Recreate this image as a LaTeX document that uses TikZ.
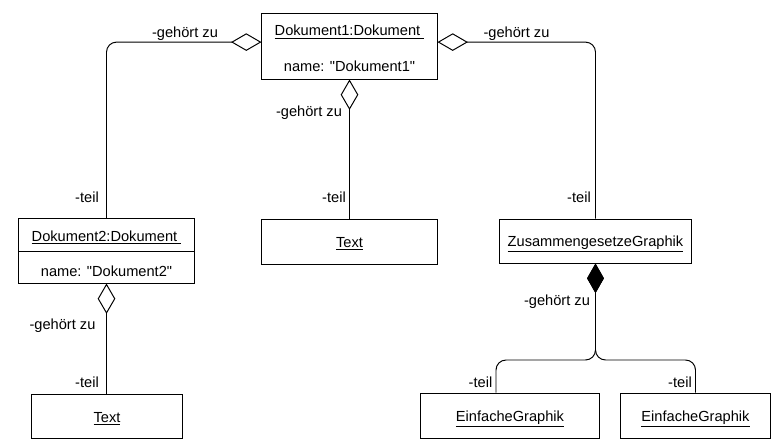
\documentclass[tikz,border=0pt]{standalone}
\usepackage{fontspec}
\setmainfont{Liberation Sans}[Ligatures=TeXOff]
\usetikzlibrary{arrows.meta}

\begin{document}
\begin{tikzpicture}[x=0.025cm, y=-0.025cm, line width=0.7pt,
        font=\fontsize{10.4}{12.5}\selectfont,
        objekt/.style={draw, rectangle, inner sep=0pt, minimum height=1.125cm},
        rolle/.style={anchor=base, inner sep=0pt},
        aggr/.style={{Diamond[open, length=0.76cm, width=0.44cm]}-, rounded corners=0.25cm},
        komp/.style={{Diamond[length=0.74cm, width=0.42cm]}-, rounded corners=0.25cm}]
        \useasboundingbox (0,0) rectangle (772,440);

        % Dokument1 oben
        \node[objekt, minimum width=4.375cm, minimum height=1.625cm] (d1) at (349.5,46.5) {};
        \node[rolle] (d1titel) at (349.5,36) {\underline{Dokument1:Dokument\ }};
        \node[rolle] (d1name) at (349.5,72) {name: "Dokument1"};

        % Dokument2 links
        \node[objekt, minimum width=4.375cm, minimum height=1.6cm] (d2) at (106.5,251) {};
        \draw (d2.west) -- (d2.east);
        \node[rolle] (d2titel) at (106.5,241.5) {\underline{Dokument2:Dokument\ }};
        \node[rolle] (d2name) at (106.5,277) {name: "Dokument2"};

        % Texte
        \node[objekt, minimum width=4.375cm] (t1) at (349.5,241.5) {};
        \node[rolle] at (349.5,247) {\underline{Text}};
        \node[objekt, minimum width=3.75cm, minimum height=1.1cm] (t2) at (107,416) {};
        \node[rolle] at (107,422) {\underline{Text}};

        % Graphiken
        \node[objekt, minimum width=4.775cm, minimum height=1.1cm] (zg) at (595.5,241) {};
        \node[rolle] at (595.5,246.5) {\underline{ZusammengesetzeGraphik}};
        \node[objekt, minimum width=4.45cm, minimum height=1.125cm] (e1) at (510,415.5) {};
        \node[rolle] at (510,421.5) {\underline{EinfacheGraphik}};
        \node[objekt, minimum width=3.725cm, minimum height=1.125cm] (e2) at (695.5,415.5) {};
        \node[rolle] at (695.5,421.5) {\underline{EinfacheGraphik}};

        % Aggregationen
        \draw[aggr] ([yshift=0.11cm]d1.west) -| (d2.north);
        \draw[aggr] ([yshift=0.11cm]d1.east) -| (zg.north);
        \draw[aggr] (d1.south) -- (t1.north);
        \draw[aggr] (d2.south) -- (d2.south |- t2.north);

        % Komposition
        \coordinate (ast) at (595.5,360);
        \draw[komp] (zg.south) -- (zg.south |- ast) -| ([xshift=-0.35cm]e1.north);
        \draw[komp] (zg.south) -- (zg.south |- ast) -| (e2.north);

        % Rollennamen
        \node[rolle] at (185,38) {-gehört zu};
        \node[rolle] at (516.5,38) {-gehört zu};
        \node[rolle] at (309,116.5) {-gehört zu};
        \node[rolle] at (62.5,329) {-gehört zu};
        \node[rolle] at (557,306) {-gehört zu};
        \node[rolle] at (87,203) {-teil};
        \node[rolle] at (334,203) {-teil};
        \node[rolle] at (579,203) {-teil};
        \node[rolle] at (87,387.5) {-teil};
        \node[rolle] at (480.5,387.5) {-teil};
        \node[rolle] at (680,387.5) {-teil};
    \end{tikzpicture}
\end{document}
